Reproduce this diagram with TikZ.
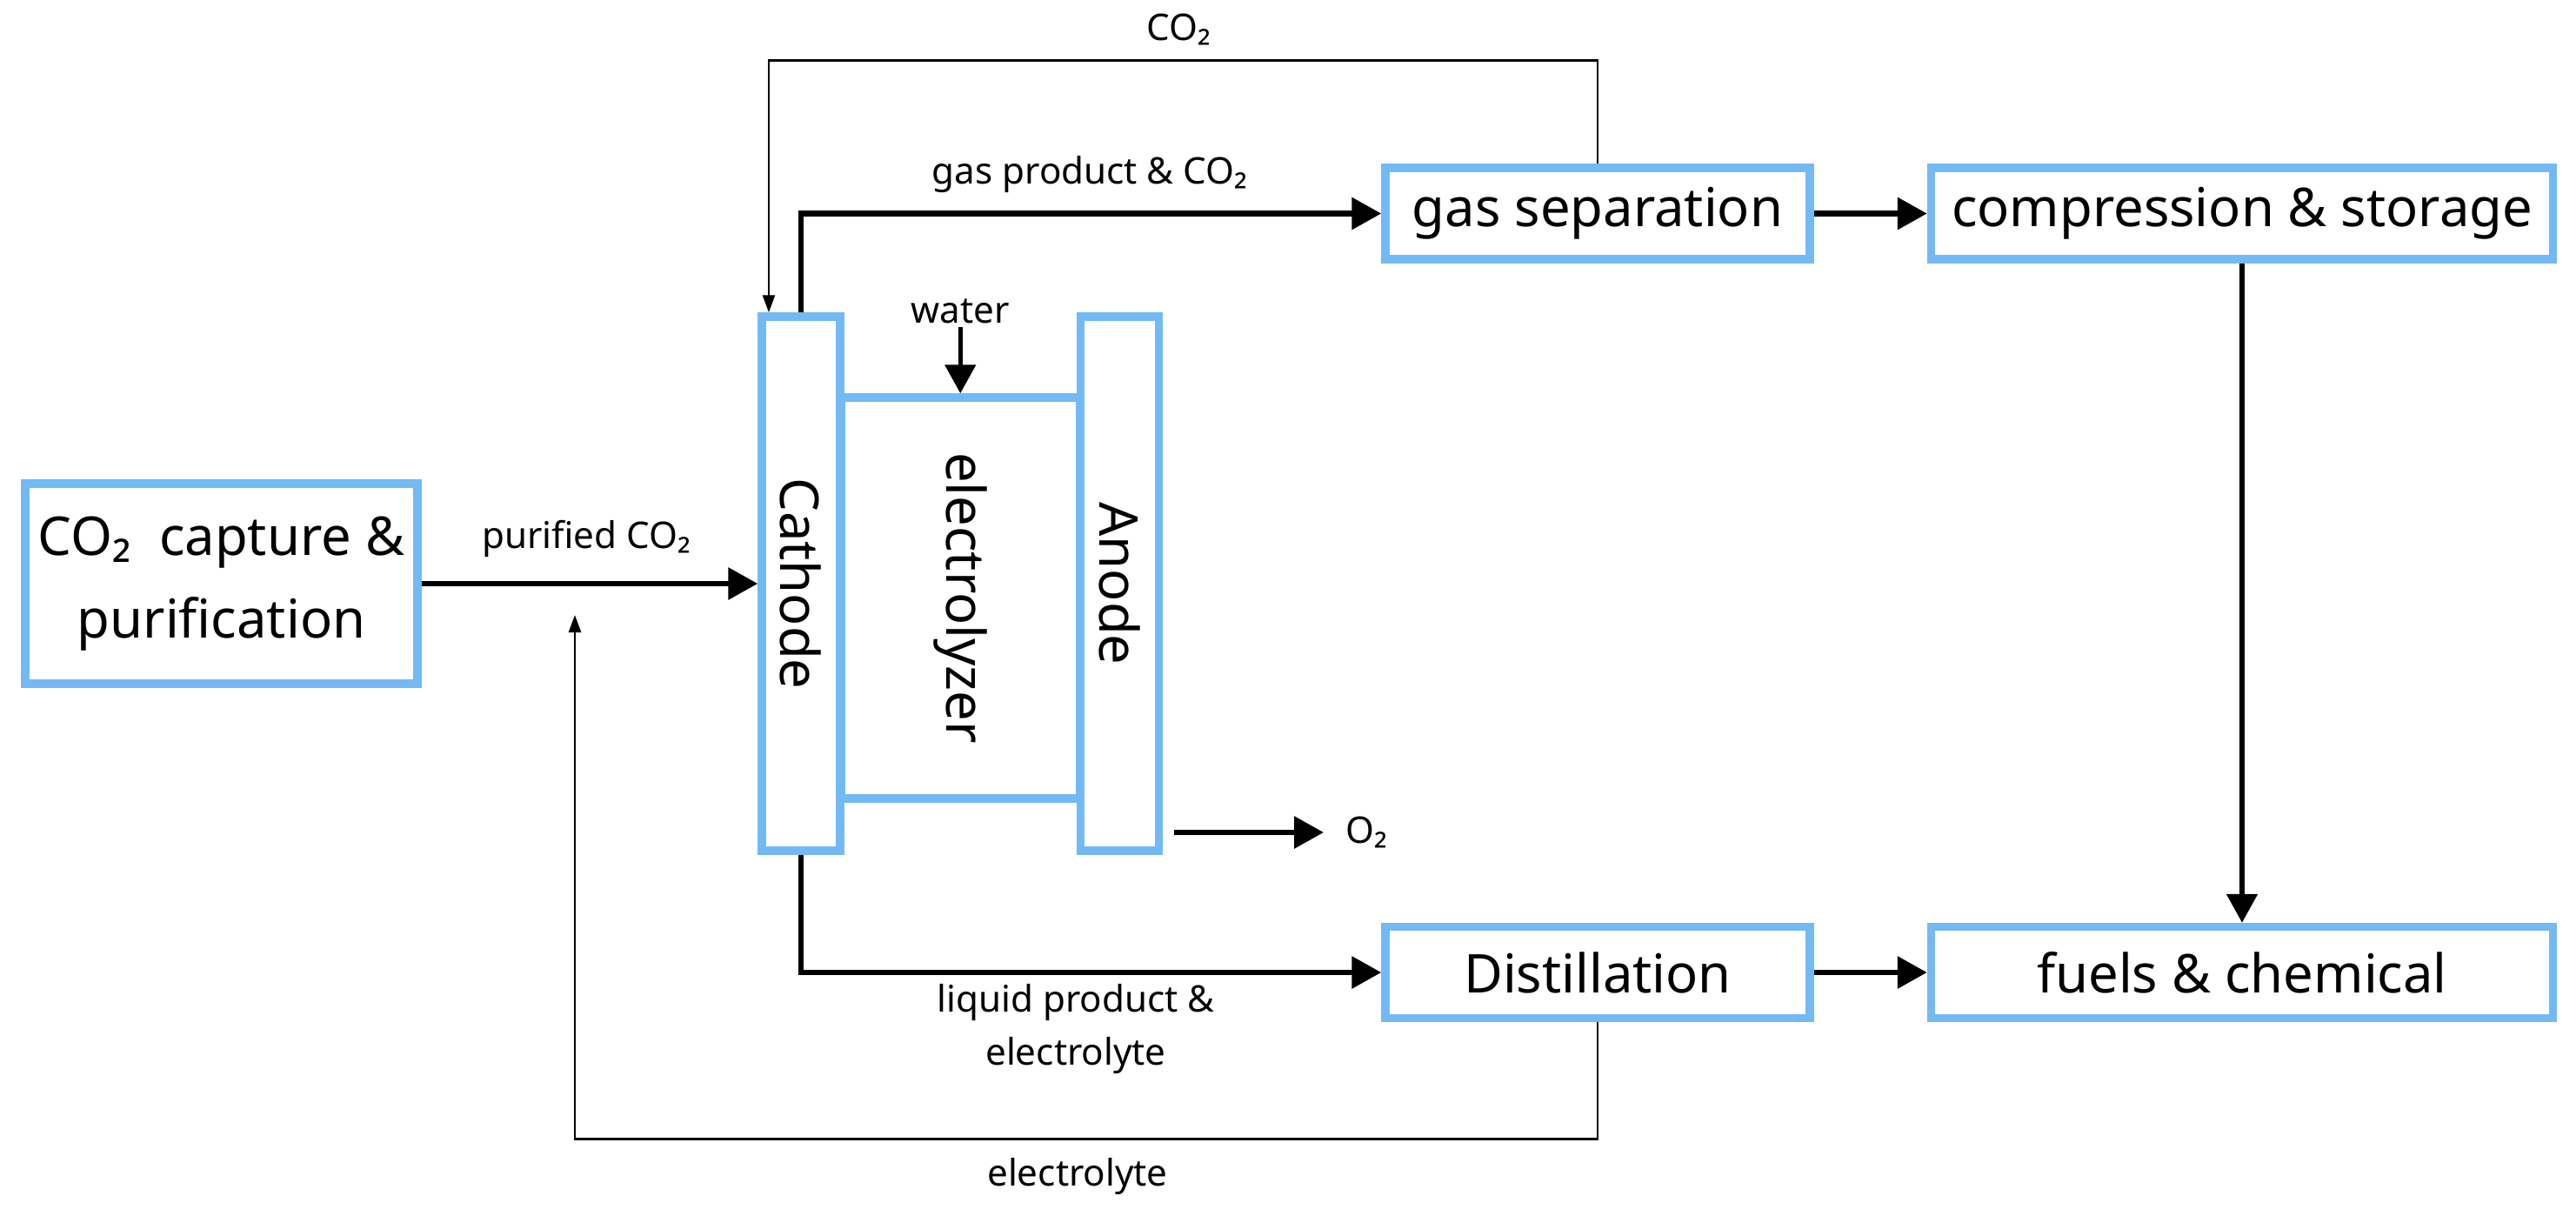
\documentclass[tikz,border=0pt]{standalone}
\usepackage{fontspec}
\setmainfont{Noto Sans}
\usepackage{xcolor}
\usetikzlibrary{arrows.meta,positioning,calc}
\definecolor{cellblue}{RGB}{115,186,245}

\begin{document}
\begin{tikzpicture}[
    box/.style={rectangle, draw=cellblue, line width=2.7pt, inner sep=0pt, align=center, font=\fontsize{17.5}{27}\selectfont},
    lbl/.style={inner sep=1pt, align=center, font=\fontsize{12}{17.5}\selectfont},
    flow/.style={draw, line width=1.8pt, -{Triangle[length=0.34cm, width=0.36cm]}},
    feed/.style={draw, line width=1.5pt, -{Triangle[length=0.33cm, width=0.35cm]}},
    recycle/.style={draw, line width=0.8pt, -{Triangle[length=0.2cm, width=0.14cm]}}
]
    \useasboundingbox (0,0) rectangle (29.62,-13.97);

    % Capture and cell
    \node [box, minimum width=4.51cm, minimum height=2.30cm] (capture) at (2.545,-6.71) {CO₂\ \ capture \&\\purification};
    \node [box, minimum width=0.90cm, minimum height=6.14cm] (cathode) at (9.21,-6.71) {\rotatebox{-90}{Cathode}};
    \node [box, minimum width=0.90cm, minimum height=6.14cm, right=2.67cm of cathode] (anode) {\rotatebox{-90}{Anode}};
    \node [box, minimum width=2.75cm, minimum height=4.61cm] (electrolyzer) at ($(cathode.center)!0.5!(anode.center)+(0,-0.165)$) {\rotatebox{-90}{electrolyzer}};

    % Product lines
    \node [box, minimum width=4.88cm, minimum height=1.05cm] (gassep) at (18.37,-2.455) {gas separation};
    \node [box, minimum width=7.15cm, minimum height=1.05cm, right=1.30cm of gassep] (storage) {compression \& storage};
    \node [box, minimum width=4.88cm, minimum height=1.05cm, below=7.58cm of gassep] (distil) {Distillation};
    \node [box, minimum width=7.15cm, minimum height=1.05cm, right=1.30cm of distil] (fuels) {fuels \& chemical};

    % Stream labels
    \node [lbl] (purlbl) at (6.74,-6.19) {purified CO₂};
    \node [lbl] (gaslbl) at (12.53,-2.01) {gas product \& CO₂};
    \node [lbl] (co2lbl) at (13.55,-0.34) {CO₂};
    \node [lbl, above=0.76cm of electrolyzer.north] (water) {water};
    \node [lbl, anchor=west, inner sep=0pt] (o2) at (15.47,-9.57) {O₂};
    \node [lbl] (liqlbl) at (12.37,-11.83) {liquid product \&\\electrolyte};
    \node [lbl] (ellbl) at (12.39,-13.53) {electrolyte};
    \coordinate (retin) at (6.61,-7.07);

    % Routing
    \path [flow] (capture) -- (cathode);
    \path [flow] (cathode.north) |- (gassep.west);
    \path [recycle] (gassep.north) -- ++(0,1.19) -| ([xshift=-0.37cm]cathode.north); % CO2 back to cathode
    \path [feed] (water) -- (electrolyzer.north);
    \path [flow] (anode.east |- o2.west) ++(0.13,0) -- ([xshift=-0.25cm]o2.west);
    \path [flow] (cathode.south) |- (distil.west);
    \path [recycle] (distil.south) -- ++(0,-1.34) -| (retin); % electrolyte back
    \path [flow] (gassep) -- (storage);
    \path [flow] (distil) -- (fuels);
    \path [feed] (storage) -- (fuels);
\end{tikzpicture}
\end{document}
